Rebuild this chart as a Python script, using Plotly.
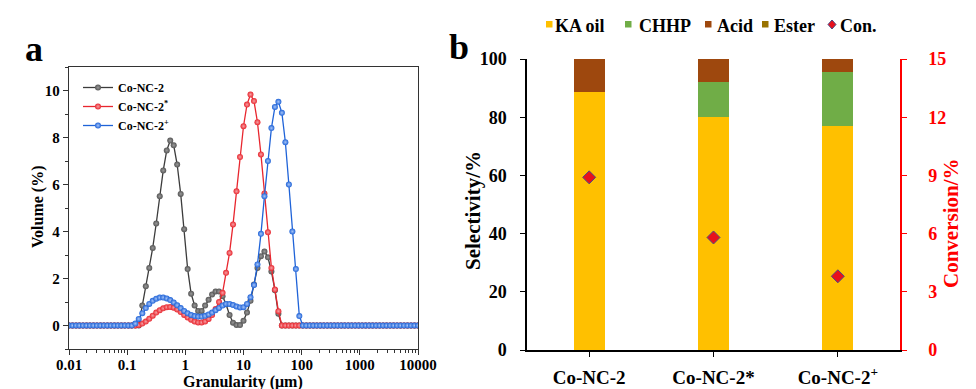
import plotly.graph_objects as go

W, H = 976, 389

# ---------------- particle size distribution (panel a) ----------------
# laser-diffraction size classes (um), 0.01 to 10000
size_um = [
    0.0100, 0.0115, 0.0132, 0.0151, 0.0174, 0.0200, 0.0229, 0.0263, 0.0302, 0.0347,
    0.0398, 0.0457, 0.0525, 0.0603, 0.0692, 0.0794, 0.0912, 0.105, 0.120, 0.138,
    0.158, 0.182, 0.209, 0.240, 0.275, 0.316, 0.363, 0.417, 0.479, 0.550,
    0.631, 0.724, 0.832, 0.955, 1.096, 1.259, 1.445, 1.660, 1.905, 2.188,
    2.512, 2.884, 3.311, 3.802, 4.365, 5.012, 5.754, 6.607, 7.586, 8.710,
    10.00, 11.48, 13.18, 15.14, 17.38, 19.95, 22.91, 26.30, 30.20, 34.67,
    39.81, 45.71, 52.48, 60.26, 69.18, 79.43, 91.20, 104.7, 120.2, 138.0,
    158.5, 182.0, 208.9, 239.9, 275.4, 316.2, 363.1, 416.9, 478.6, 549.5,
    631.0, 724.4, 831.8, 955.0, 1096, 1259, 1445, 1660, 1905, 2188,
    2512, 2884, 3311, 3802, 4365, 5012, 5754, 6607, 7586, 8710,
    10000,
]

vol_co_nc_2 = [
    0, 0, 0, 0, 0, 0, 0, 0, 0, 0,
    0, 0, 0, 0, 0, 0, 0, 0, 0, 0,
    0, 0.85, 1.67, 2.45, 3.30, 4.34, 5.50, 6.60, 7.45, 7.87,
    7.67, 6.85, 5.60, 4.10, 2.40, 1.35, 0.85, 0.62, 0.62, 0.85,
    1.10, 1.32, 1.45, 1.45, 1.25, 0.90, 0.45, 0.12, 0.02, 0.02,
    0.20, 0.55, 1.05, 1.75, 2.45, 2.95, 3.15, 2.90, 2.30, 1.50,
    0.50, 0, 0, 0, 0, 0, 0, 0, 0, 0,
    0, 0, 0, 0, 0, 0, 0, 0, 0, 0,
    0, 0, 0, 0, 0, 0, 0, 0, 0, 0,
    0, 0, 0, 0, 0, 0, 0, 0, 0, 0,
    0,
]

vol_co_nc_2_star = [
    0, 0, 0, 0, 0, 0, 0, 0, 0, 0,
    0, 0, 0, 0, 0, 0, 0, 0, 0, 0,
    0.02, 0.08, 0.17, 0.29, 0.42, 0.55, 0.65, 0.73, 0.78, 0.79,
    0.76, 0.68, 0.57, 0.45, 0.34, 0.25, 0.17, 0.13, 0.13, 0.17,
    0.28, 0.45, 0.70, 1.00, 1.39, 2.24, 3.09, 4.30, 5.71, 7.17,
    8.48, 9.40, 9.83, 9.55, 8.65, 7.28, 5.62, 3.97, 2.45, 1.53,
    0.61, 0, 0, 0, 0, 0, 0, 0, 0, 0,
    0, 0, 0, 0, 0, 0, 0, 0, 0, 0,
    0, 0, 0, 0, 0, 0, 0, 0, 0, 0,
    0, 0, 0, 0, 0, 0, 0, 0, 0, 0,
    0,
]

vol_co_nc_2_plus = [
    0, 0, 0, 0, 0, 0, 0, 0, 0, 0,
    0, 0, 0, 0, 0, 0, 0, 0, 0, 0.08,
    0.28, 0.52, 0.74, 0.92, 1.05, 1.14, 1.19, 1.19, 1.15, 1.08,
    0.98, 0.86, 0.74, 0.62, 0.52, 0.45, 0.40, 0.38, 0.38, 0.41,
    0.47, 0.55, 0.65, 0.75, 0.85, 0.92, 0.92, 0.87, 0.81, 0.77,
    0.78, 0.92, 1.20, 1.72, 2.60, 3.90, 5.50, 7.00, 8.40, 9.30,
    9.52, 9.05, 7.80, 6.00, 4.00, 2.40, 0.40, 0, 0, 0,
    0, 0, 0, 0, 0, 0, 0, 0, 0, 0,
    0, 0, 0, 0, 0, 0, 0, 0, 0, 0,
    0, 0, 0, 0, 0, 0, 0, 0, 0, 0,
    0,
]

size_ticks = [0.01, 0.1, 1, 10, 100, 1000, 10000]
size_tick_text = ["0.01", "0.1", "1", "10", "100", "1000", "10000"]
volume_ticks = [0, 2, 4, 6, 8, 10]

# ---------------- catalytic performance (panel b) ----------------
samples = ["Co-NC-2", "Co-NC-2*", "Co-NC-2<sup>+</sup>"]
ka_oil = [88.5, 80.0, 77.0]
chhp = [0.0, 12.2, 18.4]
acid = [11.5, 7.8, 4.6]
ester = [0.0, 0.0, 0.0]
conversion = [8.9, 5.8, 3.8]

selectivity_ticks = [0, 20, 40, 60, 80, 100]
conversion_ticks = [0, 3, 6, 9, 12, 15]

SERIF = "Liberation Serif"


def fx(px):
    return px / W


def fy(py):
    return 1 - py / H


fig = go.Figure()

psd_series = [
    ("Co-NC-2", vol_co_nc_2, "#3c3c3c", "#555555", "#9a9a9a"),
    ("Co-NC-2<sup>*</sup>", vol_co_nc_2_star, "#e8262e", "#e8262e", "#f7a0a4"),
    ("Co-NC-2<sup>+</sup>", vol_co_nc_2_plus, "#1f63d8", "#1f63d8", "#a6c4f7"),
]
for name, vals, lc, mc, hc in psd_series:
    fig.add_trace(go.Scatter(
        x=size_um, y=vals, name=name, mode="lines+markers",
        line=dict(color=lc, width=1.3),
        marker=dict(size=6, color=mc, line=dict(width=0),
                    gradient=dict(type="radial", color=hc)),
        xaxis="x", yaxis="y", legend="legend",
    ))

product_series = [
    ("KA oil", ka_oil, "#FFC000"),
    ("CHHP", chhp, "#70AD47"),
    ("Acid", acid, "#9E480E"),
    ("Ester", ester, "#997300"),
]
for name, vals, col in product_series:
    fig.add_trace(go.Bar(
        x=samples, y=vals, name=name, marker=dict(color=col, line=dict(width=0)),
        width=0.25, xaxis="x2", yaxis="y2", showlegend=False,
    ))

fig.add_trace(go.Scatter(
    x=samples, y=conversion, name="Con.", mode="markers",
    marker=dict(symbol="diamond", size=10, color="#e8101c",
                line=dict(color="#4a4a86", width=1)),
    xaxis="x2", yaxis="y3", showlegend=False,
))

tick_font_a = dict(family=SERIF, size=15, color="black", weight="bold")
tick_font_b = dict(family=SERIF, size=18, color="black", weight="bold")

annotations = [
    dict(text="a", x=fx(34), y=fy(49), font=dict(family=SERIF, size=36, weight="bold")),
    dict(text="b", x=fx(459), y=fy(47), font=dict(family=SERIF, size=36, weight="bold")),
    dict(text="Volume (%)", x=fx(38), y=fy(207), textangle=-90,
         font=dict(family=SERIF, size=16, weight="bold")),
    dict(text="Granularity (μm)", x=fx(243), y=fy(382),
         font=dict(family=SERIF, size=16, weight="bold")),
    dict(text="Selectivity/%", x=fx(473), y=fy(211), textangle=-90,
         font=dict(family=SERIF, size=21, weight="bold")),
    dict(text="Conversion/%", x=fx(951), y=fy(223), textangle=-90,
         font=dict(family=SERIF, size=21, weight="bold", color="#ff0000")),
]
for a in annotations:
    a.update(xref="paper", yref="paper", showarrow=False,
             xanchor="center", yanchor="middle")

# legend keys for panel b
legend_b = [
    ("KA oil", "#FFC000", 546, 553),
    ("CHHP", "#70AD47", 625, 637),
    ("Acid", "#9E480E", 705, 715),
    ("Ester", "#997300", 762, 772),
]
shapes = []
for label, col, sx, tx in legend_b:
    shapes.append(dict(type="rect", xref="paper", yref="paper",
                       x0=fx(sx), x1=fx(sx + 6.5), y0=fy(27.5), y1=fy(21),
                       fillcolor=col, line=dict(width=0)))
    annotations.append(dict(text=label, x=fx(tx), y=fy(25.5), xref="paper", yref="paper",
                            showarrow=False, xanchor="left", yanchor="middle",
                            font=dict(family=SERIF, size=18, weight="bold")))
cx, cy = 832, 24.5
shapes.append(dict(type="path", xref="paper", yref="paper",
                   path=f"M {fx(cx - 4)} {fy(cy)} L {fx(cx)} {fy(cy - 4.5)} "
                        f"L {fx(cx + 4)} {fy(cy)} L {fx(cx)} {fy(cy + 4.5)} Z",
                   fillcolor="#e8101c", line=dict(color="#4a4a86", width=1)))
annotations.append(dict(text="Con.", x=fx(838), y=fy(25.5), xref="paper", yref="paper",
                        showarrow=False, xanchor="left", yanchor="middle",
                        font=dict(family=SERIF, size=18, weight="bold")))

fig.update_layout(
    width=W, height=H,
    margin=dict(l=0, r=0, t=0, b=0, autoexpand=False),
    font=dict(family=SERIF, color="black"),
    paper_bgcolor="white", plot_bgcolor="white",
    barmode="stack", bargap=0.75,
    xaxis=dict(
        type="log", domain=[fx(69), fx(418)], range=[-2, 4], anchor="y",
        automargin=False,
        tickvals=size_ticks, ticktext=size_tick_text, tickfont=tick_font_a,
        ticks="outside", ticklen=5, tickwidth=1.3, tickcolor="#333",
        ticklabelstandoff=-3,
        minor=dict(ticks="outside", ticklen=3, tickwidth=1, tickcolor="#333", dtick="D1"),
        showline=True, linecolor="#333", linewidth=1.4, mirror=True,
        showgrid=False, zeroline=False,
    ),
    yaxis=dict(
        domain=[fy(349), fy(67)], range=[-1, 11], anchor="x",
        automargin=False,
        tickvals=volume_ticks, tickfont=tick_font_a,
        ticks="outside", ticklen=5, tickwidth=1.3, tickcolor="#333",
        minor=dict(ticks="outside", ticklen=3, tickwidth=1, tickcolor="#333", dtick=1, tick0=0),
        showline=True, linecolor="#333", linewidth=1.4, mirror=True,
        showgrid=False, zeroline=False,
    ),
    xaxis2=dict(
        domain=[fx(527), fx(900)], type="category", range=[-0.5, 2.5], anchor="y2",
        automargin=False,
        tickfont=dict(family=SERIF, size=19, color="black", weight="bold"),
        ticks="outside", ticklen=5, tickwidth=1.3, tickcolor="black",
        ticklabelstandoff=4,
        showline=True, linecolor="black", linewidth=1.5,
        showgrid=False, zeroline=False,
    ),
    yaxis2=dict(
        domain=[fy(350), fy(59)], range=[0, 100], anchor="x2",
        automargin=False,
        tickvals=selectivity_ticks, tickfont=tick_font_b,
        ticks="outside", ticklen=5, tickwidth=1.3, tickcolor="black",
        ticklabelstandoff=10,
        showline=True, linecolor="black", linewidth=1.5,
        showgrid=False, zeroline=False,
    ),
    yaxis3=dict(
        overlaying="y2", side="right", range=[0, 15], anchor="x2",
        automargin=False,
        tickvals=conversion_ticks,
        tickfont=dict(family=SERIF, size=18, color="#ff0000", weight="bold"),
        ticks="outside", ticklen=5, tickwidth=1.3, tickcolor="#ff0000",
        ticklabelstandoff=18,
        showline=True, linecolor="#ff0000", linewidth=1.5,
        showgrid=False, zeroline=False,
    ),
    legend=dict(
        x=fx(78), y=fy(73), xanchor="left", yanchor="top",
        bgcolor="rgba(0,0,0,0)", borderwidth=0, traceorder="normal",
        font=dict(family=SERIF, size=12, color="black", weight="bold"),
        tracegroupgap=0, itemwidth=30,
    ),
    annotations=annotations,
    shapes=shapes,
)

fig.write_html("out.html")
